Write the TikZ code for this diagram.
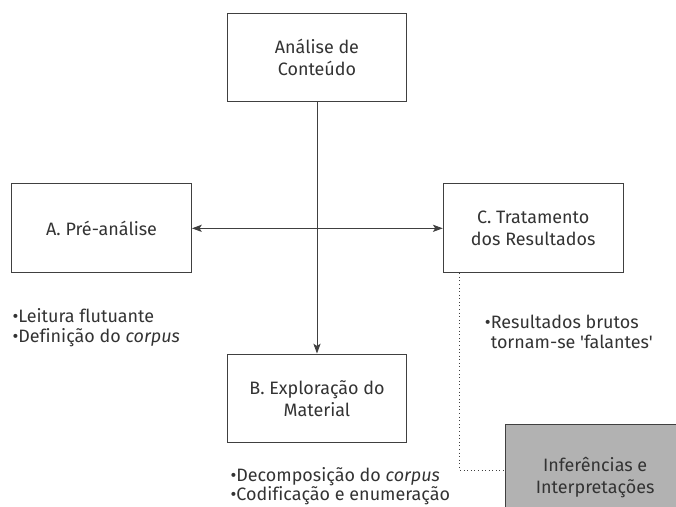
\documentclass[tikz,border=0pt]{standalone}
\usepackage{fontspec}
\setmainfont{Fira Sans}[Ligatures={TeXOff,NoCommon}]
\usepackage{tikz}
\usetikzlibrary{shapes.geometric, arrows.meta}
\usetikzlibrary{positioning}
\definecolor{linegray}{rgb}{0.25,0.25,0.25}
\definecolor{textgray}{rgb}{0.2,0.2,0.2}
\definecolor{boxgray}{rgb}{0.70,0.70,0.70}
\tikzstyle{etapa} = [rectangle, minimum width = 4.76cm, minimum height=2.35cm, text centered, align=center, draw = linegray, line width=0.7pt, fill = white, text=textgray, font=\fontsize{13.5}{16.5}\selectfont]
\tikzstyle{final} = [rectangle, minimum width = 4.76cm, minimum height=2.8cm, text centered, align=center, draw = linegray, line width=0.7pt, fill = boxgray, text=textgray, font=\fontsize{13.5}{16.5}\selectfont]
\tikzstyle{nota} = [inner sep=0pt, align=left, text=textgray, font=\fontsize{13.5}{15}\selectfont]
\tikzstyle{arrow} = [->,>={Stealth[length=2.6mm,width=1.9mm,inset=0.6mm]}, draw=linegray, line width=0.7pt]
\tikzstyle{dblarrow} = [<->,>={Stealth[length=2.6mm,width=1.9mm,inset=0.6mm]}, draw=linegray, line width=0.7pt]
\tikzstyle{dotline} = [dotted, draw=linegray, line width=0.7pt]

\begin{document}
\begin{tikzpicture}[node distance=4.52cm]
	\clip (-8.387,1.521) rectangle (9.499,-11.893);
	% etapas
	\node (AC) [etapa] {Análise de\\Conteúdo};
	\node (PA) [etapa, below of=AC, xshift=-5.70cm] {A. Pré-análise};
	\node (TR) [etapa, below of=AC, xshift=5.72cm] {C. Tratamento\\dos Resultados};
	\node (EM) [etapa, below of=AC, yshift=-4.50cm] {B. Exploração do\\Material};
	\node (II) [final, below of=TR, xshift=1.64cm, yshift=-2.08cm] {Inferências e\\Interpretações};
	% notas
	\node (nPA) [nota, below right=0.93cm and 0.03cm of PA.south west] {•Leitura flutuante\\•Definição do \textit{corpus}};
	\node (nEM) [nota, below right=0.64cm and 0.10cm of EM.south west, font=\fontsize{13.5}{14.5}\selectfont] {•Decomposição do \textit{corpus}\\•Codificação e enumeração};
	\node (nTR) [nota, below right=1.09cm and 1.11cm of TR.south west] {•Resultados brutos\\\phantom{•}tornam-se 'falantes'};
	% ligacoes
	\draw [arrow](AC)--(EM);
	\draw [dblarrow](PA)--(TR);
	\draw [dotline]([xshift=0.45cm]TR.south west) |- ([yshift=0.2cm]II.west);
\end{tikzpicture}
\end{document}
